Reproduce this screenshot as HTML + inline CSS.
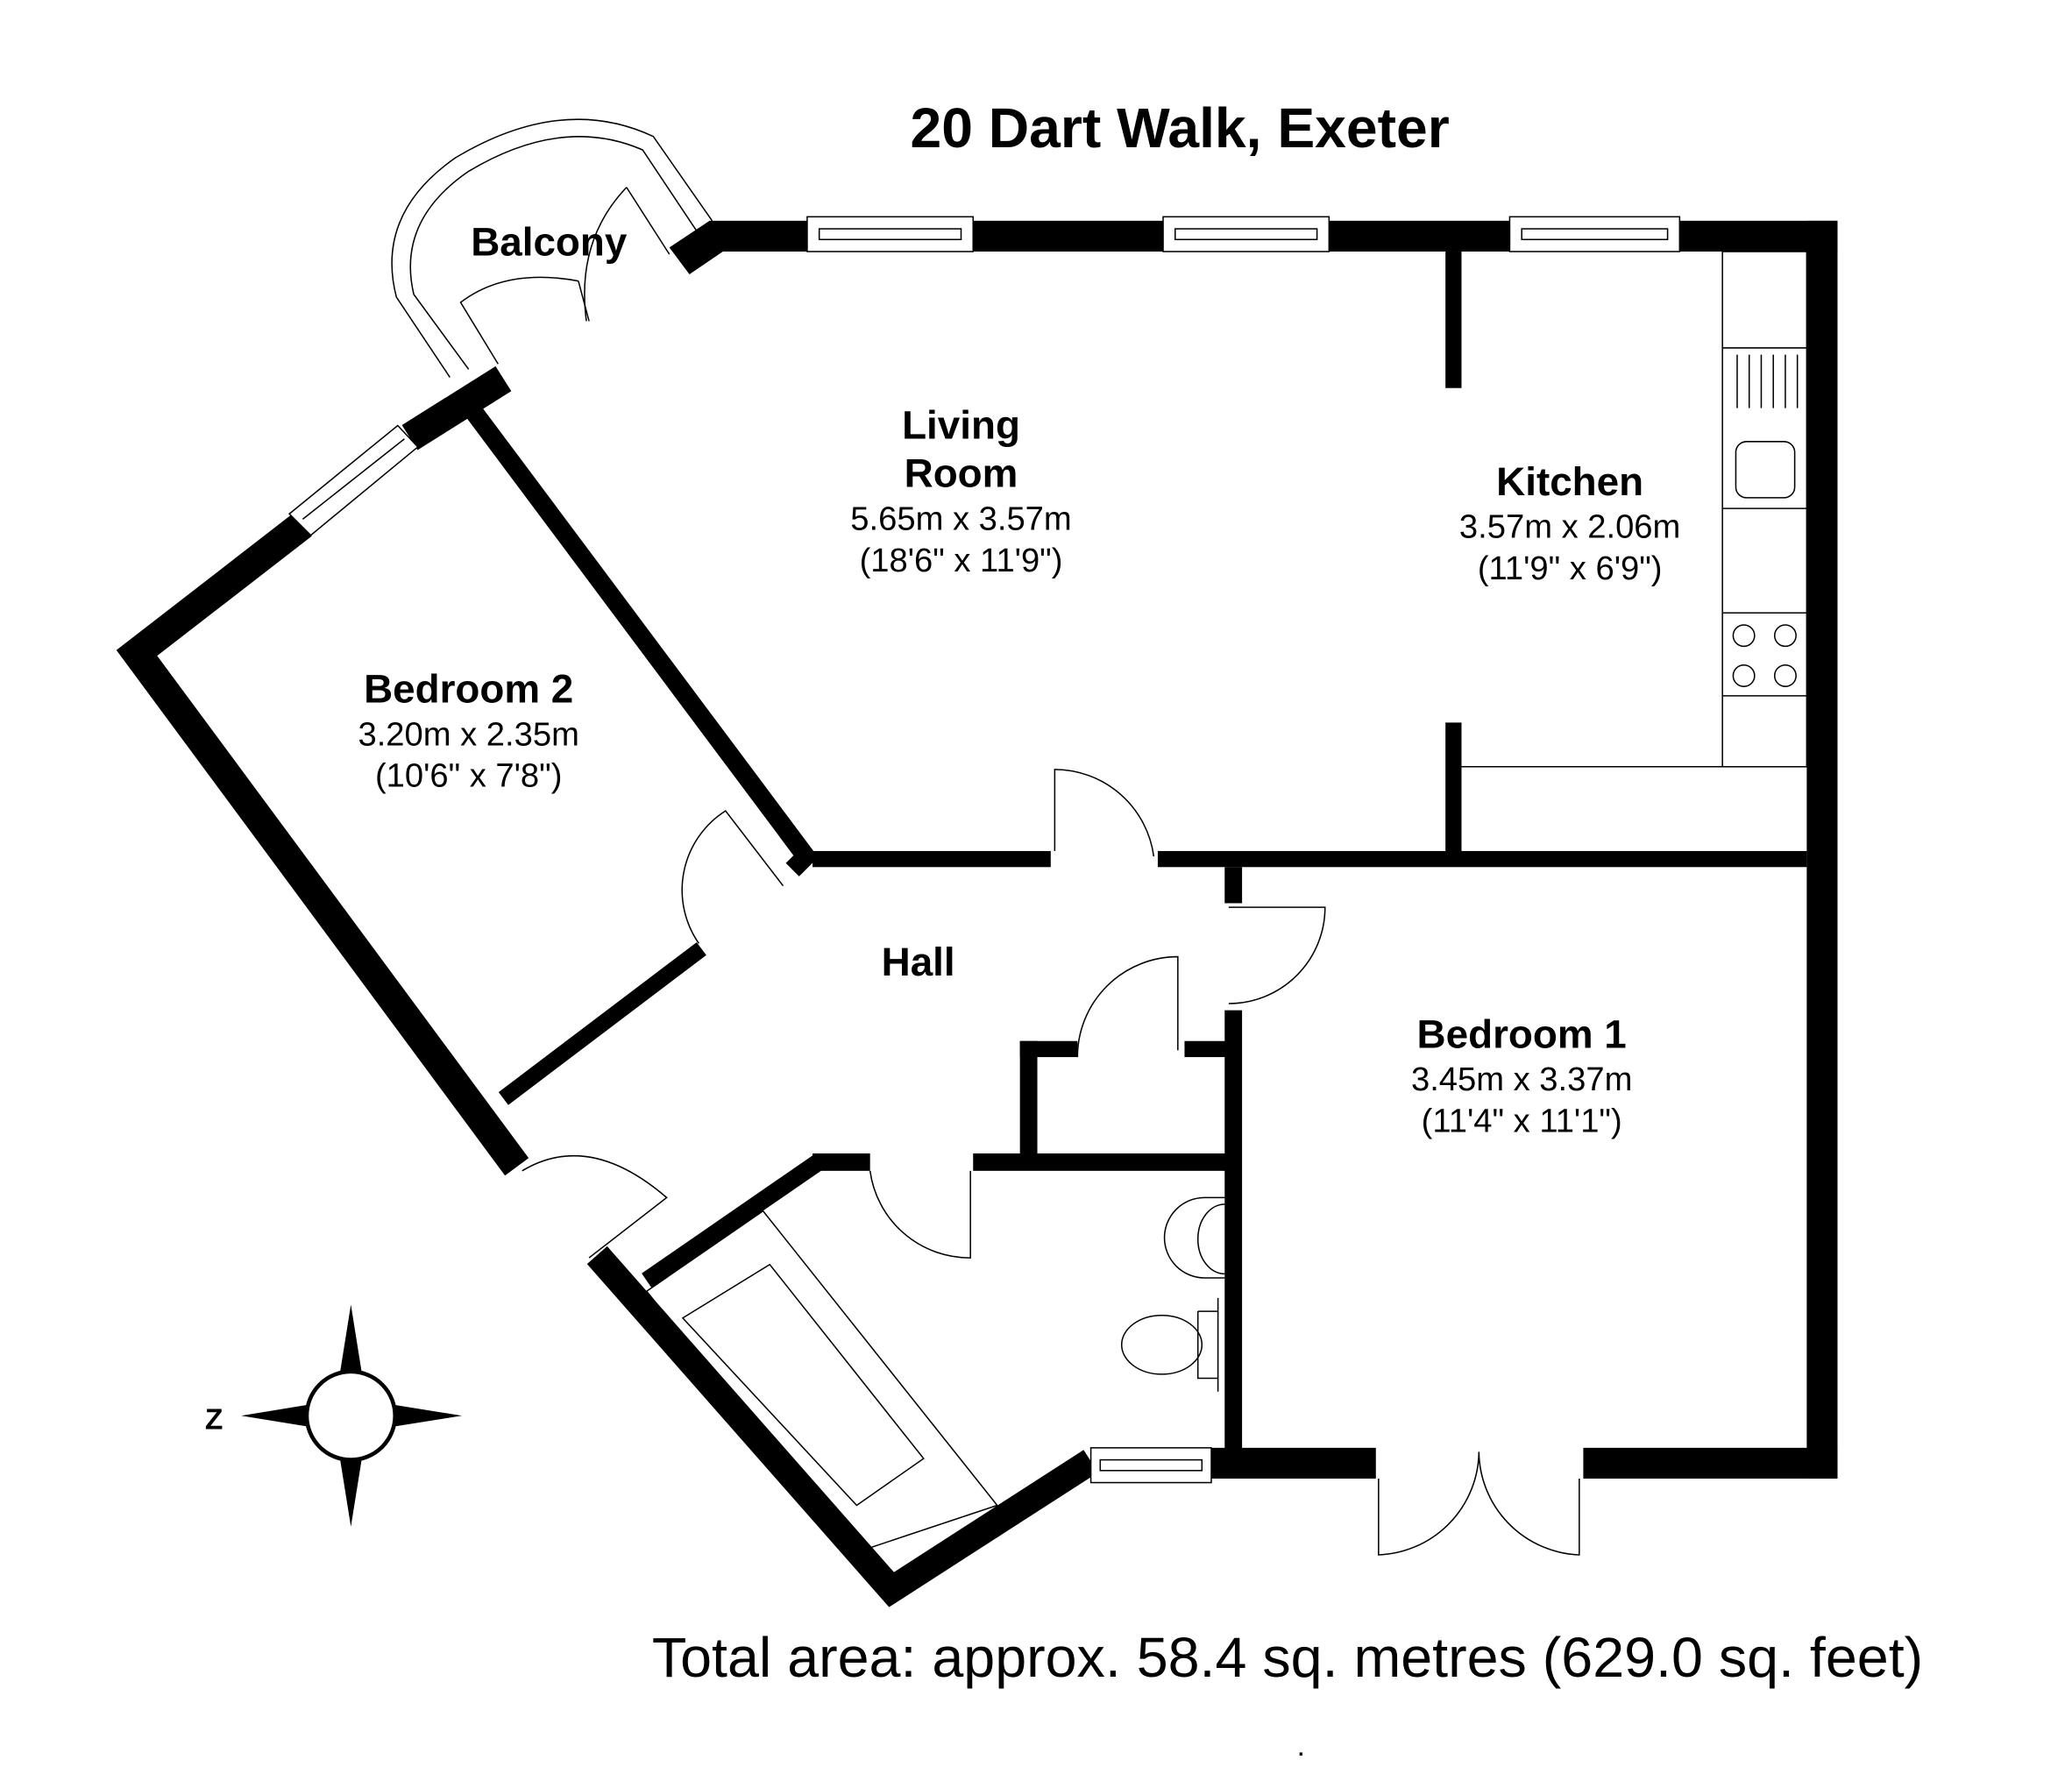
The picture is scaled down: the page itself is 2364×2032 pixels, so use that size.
<!DOCTYPE html>
<html><head><meta charset="utf-8"><style>
html,body{margin:0;padding:0;background:#fff;}
svg{display:block;}
text{font-family:"Liberation Sans",Arial,sans-serif;fill:#000;}
.b{font-weight:bold;font-size:30px;}
.d{font-size:25px;}
</style></head><body>
<svg width="2364" height="2032" viewBox="0 0 1548 1331" xmlns="http://www.w3.org/2000/svg">
<rect width="1548" height="1331" fill="#fff"/>
<g fill="none" stroke="#000" stroke-width="1">
<path d="M336,282 L296,222 Q280,160 340,118 Q420,70 488,102 L532,165"/>
<path d="M350,276 L309,220 Q296,165 350,128 Q420,86 480,112 L520,172"/>
<path d="M372,272 L344,226 Q378,200 432,210 M432,210 L440,240"/>
<path d="M468,140 Q430,180 438,240 M468,140 L500,190"/>
</g>
<g fill="#000">
<polygon points="500,185 530,165 1373,165 1373,188 540,188 515,205"/>
<rect x="1350" y="165" width="23" height="940"/>
<rect x="905" y="1082" width="123" height="23"/>
<rect x="1183" y="1082" width="190" height="23"/>
<rect x="607" y="636" width="178" height="12"/>
<rect x="865" y="636" width="485" height="12"/>
<rect x="1080" y="188" width="12" height="102"/>
<rect x="1080" y="540" width="12" height="100"/>
<rect x="915" y="648" width="13" height="27"/>
<rect x="915" y="755" width="13" height="330"/>
<rect x="762" y="778" width="13" height="90"/>
<rect x="762" y="778" width="43" height="12"/>
<rect x="885" y="778" width="35" height="12"/>
<rect x="727" y="862" width="195" height="13"/>
<rect x="607" y="862" width="43" height="13"/>
</g>
<g fill="none" stroke="#000" stroke-linecap="butt" stroke-linejoin="miter">
<polyline points="226,392 102,488 386,872" stroke-width="22"/>
<line x1="306" y1="327" x2="376" y2="283" stroke-width="22"/>
<polyline points="354,308 602,640 592,650" stroke-width="14"/>
<line x1="376" y1="821" x2="524" y2="709" stroke-width="12"/>
<line x1="612" y1="868" x2="483" y2="957" stroke-width="13"/>
<polyline points="446,938 666,1188 815,1092" stroke-width="20"/>
</g>
<g fill="#fff" stroke="#000" stroke-width="1">
<rect x="603" y="162" width="124" height="26"/><rect x="612" y="171" width="106" height="8"/>
<rect x="869" y="162" width="124" height="26"/><rect x="878" y="171" width="106" height="8"/>
<rect x="1128" y="162" width="127" height="26"/><rect x="1137" y="171" width="109" height="8"/>
<rect x="815" y="1082" width="90" height="26"/><rect x="822" y="1091" width="76" height="8"/>
<polygon points="216,384 297,318 312,334 232,400"/>
<line x1="226" y1="388" x2="302" y2="328"/>
</g>
<g fill="none" stroke="#000" stroke-width="1">
<rect x="1287" y="188" width="63" height="385"/>
<line x1="1092" y1="573" x2="1287" y2="573"/>
<line x1="1287" y1="260" x2="1350" y2="260"/>
<line x1="1287" y1="380" x2="1350" y2="380"/>
<line x1="1287" y1="458" x2="1350" y2="458"/>
<line x1="1287" y1="520" x2="1350" y2="520"/>
<path d="M1298,265 v40 M1307,265 v40 M1316,265 v40 M1325,265 v40 M1334,265 v40 M1343,265 v40"/>
<rect x="1297" y="330" width="44" height="42" rx="8"/>
<circle cx="1303" cy="475" r="8"/><circle cx="1334" cy="475" r="8"/>
<circle cx="1303" cy="505" r="8"/><circle cx="1334" cy="505" r="8"/>
<path d="M788,636 V575 A75,75 0 0 1 862,640"/>
<path d="M918,678 H990 A72,72 0 0 1 918,750"/>
<path d="M880,785 V715 A75,75 0 0 0 805,790"/>
<path d="M650,875 A75,75 0 0 0 725,940 V875"/>
<path d="M585,662 L542,606 A70,70 0 0 0 522,705"/>
<path d="M390,875 Q440,845 498,895 L440,940"/>
<path d="M1030,1105 V1162 A78,78 0 0 0 1105,1085 M1180,1105 V1162 A78,78 0 0 1 1105,1085"/>
<polygon points="483,965 570,905 745,1125 640,1160"/>
<polygon points="510,985 575,945 690,1090 640,1125 Q600,1080 510,985"/>
<path d="M915,895 H900 A22,22 0 0 0 900,955 H915"/>
<path d="M915,900 A20,26 0 0 0 915,952"/>
<path d="M910,970 V1040 M910,980 H895 M895,980 V1030 H910"/>
<ellipse cx="868" cy="1005" rx="30" ry="22"/>
<circle cx="262" cy="1058" r="33" stroke-width="3"/>
</g>
<g fill="#000">
<polygon points="262,975 270,1025 254,1025"/>
<polygon points="262,1141 270,1091 254,1091"/>
<polygon points="345,1058 295,1050 295,1066"/>
<polygon points="180,1058 229,1050 229,1066"/>
</g>
<text x="153" y="1068" font-size="22" font-weight="bold">Z</text>
<text x="680" y="110" font-size="42" font-weight="bold" textLength="403" lengthAdjust="spacingAndGlyphs">20 Dart Walk, Exeter</text>
<text x="410" y="191" text-anchor="middle" class="b">Balcony</text>
<text x="718" y="328" text-anchor="middle" class="b">Living</text>
<text x="718" y="364" text-anchor="middle" class="b">Room</text>
<text x="718" y="396" text-anchor="middle" class="d">5.65m x 3.57m</text>
<text x="718" y="427" text-anchor="middle" class="d">(18'6" x 11'9")</text>
<text x="1173" y="370" text-anchor="middle" class="b">Kitchen</text>
<text x="1173" y="402" text-anchor="middle" class="d">3.57m x 2.06m</text>
<text x="1173" y="433" text-anchor="middle" class="d">(11'9" x 6'9")</text>
<text x="350" y="525" text-anchor="middle" class="b">Bedroom 2</text>
<text x="350" y="557" text-anchor="middle" class="d">3.20m x 2.35m</text>
<text x="350" y="588" text-anchor="middle" class="d">(10'6" x 7'8")</text>
<text x="686" y="729" text-anchor="middle" class="b">Hall</text>
<text x="1137" y="783" text-anchor="middle" class="b">Bedroom 1</text>
<text x="1137" y="815" text-anchor="middle" class="d">3.45m x 3.37m</text>
<text x="1137" y="846" text-anchor="middle" class="d">(11'4" x 11'1")</text>
<text x="487" y="1253" font-size="42" textLength="950" lengthAdjust="spacingAndGlyphs">Total area: approx. 58.4 sq. metres (629.0 sq. feet)</text>
<text x="972" y="1312" text-anchor="middle" font-size="22">.</text>
</svg>
</body></html>
